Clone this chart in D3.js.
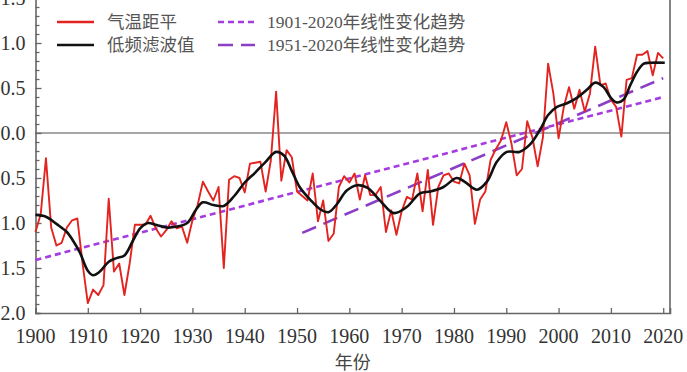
<!DOCTYPE html>
<html><head><meta charset="utf-8">
<script src="https://cdn.jsdelivr.net/npm/d3@7"></script>
<style>html,body{margin:0;padding:0;background:#fff;overflow:hidden}svg{display:block}</style>
</head><body>
<svg id="c" width="687" height="372"></svg>
<script>
const years = d3.range(1900, 2021);
const anomaly = [
-1.10,-0.90,-0.28,-1.05,-1.25,-1.22,-1.05,-0.97,-0.95,-1.45,
-1.89,-1.74,-1.80,-1.69,-0.73,-1.54,-1.45,-1.80,-1.45,-1.02,
-1.02,-1.02,-0.92,-1.06,-1.15,-1.08,-0.98,-1.06,-1.04,-1.22,
-0.97,-0.80,-0.54,-0.65,-0.75,-0.60,-1.50,-0.52,-0.48,-0.50,
-0.66,-0.34,-0.33,-0.32,-0.65,-0.30,0.46,-0.53,-0.19,-0.27,
-0.65,-0.70,-0.75,-0.45,-0.98,-0.75,-1.20,-1.12,-0.60,-0.48,
-0.55,-0.45,-0.74,-0.47,-0.69,-0.69,-0.60,-1.10,-0.86,-1.13,
-0.87,-0.71,-0.74,-0.45,-0.87,-0.41,-1.02,-0.60,-0.47,-0.45,
-0.54,-0.56,-0.34,-0.47,-1.01,-0.74,-0.65,-0.30,-0.18,-0.08,
0.12,-0.12,-0.47,-0.40,0.13,-0.05,-0.37,-0.05,0.77,0.44,
-0.06,0.29,0.51,0.27,0.48,0.24,0.44,0.96,0.53,0.55,
0.37,0.29,-0.04,0.59,0.61,0.87,0.87,0.91,0.64,0.89,
0.83];
const filterYears = [1900,1902,1904,1906,1907,1908.5,1910,1911,1912.3,1914,1915.5,1917,1918.6,1920,1921.5,1923,1925,1927,1929,1930.7,1932,1934,1936,1938,1940,1942,1944,1946,1947.5,1949,1950.5,1952.5,1954.5,1956,1957.5,1959.5,1961.5,1963.5,1966,1968.5,1971,1973.5,1975.5,1978,1980.5,1982,1984.4,1986.3,1988.2,1990.1,1992.5,1994.5,1996.5,1998,1999.7,2001.6,2003.5,2005.4,2007,2008.6,2010,2011.1,2012.4,2013.7,2015,2016.3,2017.5,2020.3];
const filterValues = [-0.91,-0.93,-1.01,-1.10,-1.18,-1.33,-1.53,-1.58,-1.54,-1.43,-1.39,-1.36,-1.20,-1.06,-1.00,-1.02,-1.05,-1.04,-1.00,-0.85,-0.77,-0.80,-0.81,-0.70,-0.55,-0.44,-0.32,-0.21,-0.25,-0.42,-0.60,-0.74,-0.85,-0.88,-0.80,-0.64,-0.58,-0.61,-0.76,-0.89,-0.82,-0.67,-0.65,-0.60,-0.50,-0.54,-0.63,-0.54,-0.32,-0.21,-0.21,-0.13,0.04,0.20,0.29,0.33,0.39,0.48,0.56,0.51,0.39,0.34,0.37,0.53,0.68,0.77,0.78,0.78];
const trend1Years = [1900, 2020];
const trend1Values = [-1.41, 0.40];
const trend2Years = [1951, 2020];
const trend2Values = [-1.11, 0.61];
const yTicks = [-2.0,-1.5,-1.0,-0.5,0.0,0.5,1.0,1.5];
const xTicks = [1900,1910,1920,1930,1940,1950,1960,1970,1980,1990,2000,2010,2020];
const legendLabels = ["气温距平","低频滤波值","1901-2020年线性变化趋势","1951-2020年线性变化趋势"];
const xTitle = "年份";

const svg = d3.select("#c");
const x = d3.scaleLinear().domain([1900, 2021.3]).range([35.5, 670]);
const y = d3.scaleLinear().domain([-2, 1.5]).range([313, -2]);
const axisColor = "#666";
const serif = "'Liberation Serif','Times New Roman',serif";
const cjk = "'Liberation Serif','Noto Sans CJK SC',serif";

// zero line
svg.append("line").attr("x1", x(1900)).attr("x2", 670).attr("y1", y(0)).attr("y2", y(0))
  .attr("stroke", "#888").attr("stroke-width", 1.5);

// y axis (inward ticks)
const gy = svg.append("g").attr("transform", `translate(${x(1900)},0)`);
gy.call(d3.axisRight(y).tickValues(d3.range(-20, 16).map(d => d / 10)).tickSize(4).tickFormat(""));
gy.call(g => g.selectAll(".tick line").attr("stroke", axisColor).attr("stroke-width", 1.3));
gy.call(g => g.selectAll(".tick").filter(d => Math.abs(d * 2 - Math.round(d * 2)) < 1e-6).select("line").attr("x2", 6));
gy.select(".domain").attr("stroke", axisColor).attr("stroke-width", 1.6);
// labels: the reference is cropped at its left edge, so minus signs fall outside the frame
svg.append("g").selectAll("text").data(yTicks).join("text")
  .attr("x", 25.5).attr("y", d => y(d)).attr("dy", "0.35em").attr("text-anchor", "end")
  .attr("font-family", serif).attr("font-size", 20).attr("fill", "#333")
  .text(d => d.toFixed(1));

// x axis (inward ticks)
const gx = svg.append("g").attr("transform", `translate(0,${y(-2)})`);
gx.call(d3.axisTop(x).tickValues(xTicks).tickSize(5).tickFormat(""));
gx.selectAll(".tick line").attr("stroke", axisColor).attr("stroke-width", 1.3);
gx.select(".domain").attr("stroke", axisColor).attr("stroke-width", 1.6);
svg.append("g").selectAll("text").data(xTicks).join("text")
  .attr("x", d => x(d)).attr("y", 343).attr("text-anchor", "middle")
  .attr("font-family", serif).attr("font-size", 20).attr("fill", "#333").text(d => d);
svg.append("text").attr("x", (x(1900) + 670) / 2).attr("y", 369).attr("text-anchor", "middle")
  .attr("font-family", cjk).attr("font-size", 18).attr("fill", "#444").text(xTitle);

// right frame
svg.append("line").attr("x1", 670).attr("x2", 670).attr("y1", 0).attr("y2", y(-2))
  .attr("stroke", axisColor).attr("stroke-width", 1.6);

// trends
const trendLine = d3.line().x(d => x(d[0])).y(d => y(d[1]));
svg.append("path").attr("d", trendLine(d3.zip(trend1Years, trend1Values)))
  .attr("fill", "none").attr("stroke", "#a53ce0").attr("stroke-width", 2.6).attr("stroke-dasharray", "6,4");
svg.append("path").attr("d", trendLine(d3.zip(trend2Years, trend2Values)))
  .attr("fill", "none").attr("stroke", "#8a3fc6").attr("stroke-width", 2.6).attr("stroke-dasharray", "15,8");

// anomaly
svg.append("path").attr("d", d3.line().x((d, i) => x(years[i])).y(d => y(d))(anomaly))
  .attr("fill", "none").attr("stroke", "#e3231f").attr("stroke-width", 1.9).attr("stroke-linejoin", "round");
// filter
svg.append("path").attr("d", d3.line().curve(d3.curveCatmullRom).x((d, i) => x(filterYears[i])).y(d => y(d))(filterValues))
  .attr("fill", "none").attr("stroke", "#111").attr("stroke-width", 2.6);

// legend
const legend = [
  {lx: 57, ly: 22, tx: 107, color: "#e3231f", dash: null, w: 2.6},
  {lx: 57, ly: 45, tx: 107, color: "#111", dash: null, w: 2.6},
  {lx: 218, ly: 22, tx: 267, color: "#a53ce0", dash: "6,4", w: 2.6},
  {lx: 218, ly: 45, tx: 267, color: "#8a3fc6", dash: "15,8", w: 2.6}
];
legend.forEach((l, i) => {
  svg.append("line").attr("x1", l.lx).attr("x2", l.lx + 37).attr("y1", l.ly).attr("y2", l.ly)
    .attr("stroke", l.color).attr("stroke-width", l.w).attr("stroke-dasharray", l.dash);
  svg.append("text").attr("x", l.tx).attr("y", l.ly).attr("dy", "0.35em")
    .attr("font-family", cjk).attr("font-size", 17.5).attr("fill", "#555").text(legendLabels[i]);
});
</script>
</body></html>
